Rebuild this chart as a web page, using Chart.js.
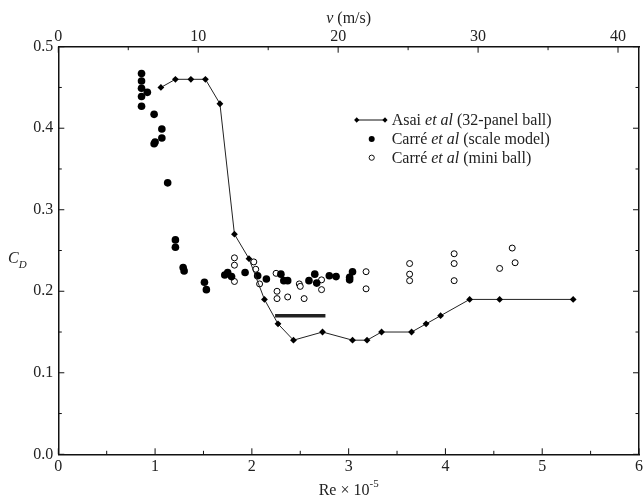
<!DOCTYPE html>
<html>
<head>
<meta charset="utf-8">
<script src="https://cdn.jsdelivr.net/npm/chart.js@4.4.1/dist/chart.umd.min.js"></script>
<style>
  html, body { margin: 0; padding: 0; background: #fff; }
</style>
</head>
<body>
<canvas id="dragChart" width="644" height="499"></canvas>
<script>
// Asai et al (32-panel ball) - diamonds joined by a line
const asaiRe = [1.06, 1.21, 1.37, 1.52, 1.67, 1.82, 1.97, 2.13, 2.27, 2.43, 2.73, 3.04, 3.19, 3.34, 3.65, 3.80, 3.95, 4.25, 4.56, 5.32];
const asaiCd = [0.45, 0.46, 0.46, 0.46, 0.43, 0.27, 0.24, 0.19, 0.16, 0.14, 0.15, 0.14, 0.14, 0.15, 0.15, 0.16, 0.17, 0.19, 0.19, 0.19];

// Carré et al (scale model) - filled circles
const scaleRe = [0.86, 0.86, 0.86, 0.92, 0.86, 0.86, 0.99, 1.07, 0.99, 1.00, 1.07, 1.13, 1.21, 1.21, 1.29, 1.30, 1.51, 1.53, 1.72, 1.75, 1.79, 1.93, 2.06, 2.15, 2.30, 2.33, 2.37, 2.59, 2.65, 2.67, 2.80, 2.87, 3.01, 3.01, 3.04];
const scaleCd = [0.467, 0.458, 0.449, 0.444, 0.439, 0.427, 0.417, 0.399, 0.381, 0.383, 0.388, 0.333, 0.263, 0.254, 0.229, 0.225, 0.211, 0.202, 0.220, 0.223, 0.218, 0.223, 0.219, 0.215, 0.221, 0.213, 0.213, 0.213, 0.221, 0.210, 0.219, 0.218, 0.217, 0.214, 0.224];

// Carré et al (mini ball) - open circles
const miniRe = [1.82, 1.82, 1.82, 2.02, 2.04, 2.08, 2.25, 2.26, 2.26, 2.37, 2.49, 2.50, 2.54, 2.72, 2.72, 3.18, 3.18, 3.63, 3.63, 3.63, 4.09, 4.09, 4.09, 4.56, 4.69, 4.72];
const miniCd = [0.241, 0.232, 0.212, 0.236, 0.227, 0.209, 0.222, 0.200, 0.191, 0.193, 0.209, 0.206, 0.191, 0.214, 0.202, 0.224, 0.203, 0.234, 0.221, 0.213, 0.246, 0.234, 0.213, 0.228, 0.253, 0.235];

// thick horizontal bar
const barRe = [2.24, 2.76];
const barCd = [0.17, 0.17];

// tick labels
const reTicks = [0, 1, 2, 3, 4, 5, 6];
const vTicks = [0, 10, 20, 30, 40];
const cdTicks = [0, 0.1, 0.2, 0.3, 0.4, 0.5];

const SERIF = "'Liberation Serif', 'Times New Roman', serif";
Chart.defaults.font.family = SERIF;
Chart.defaults.font.size = 16;
Chart.defaults.color = '#222';

const toPts = (xs, ys) => xs.map((x, i) => ({ x: x, y: ys[i] }));

// draw the ticks pointing inwards, with a minor tick half way
const inTicks = {
  id: 'inTicks',
  afterDraw(chart) {
    const { ctx, chartArea: a, scales } = chart;
    ctx.save();
    ctx.strokeStyle = '#111';
    ctx.lineWidth = 1;
    const marks = (vals) => {
      const out = [];
      vals.forEach((v, i) => {
        out.push([v, 6]);
        if (i < vals.length - 1) out.push([(v + vals[i + 1]) / 2, 3.5]);
      });
      return out;
    };
    ctx.beginPath();
    marks(reTicks).forEach(([v, len]) => {
      const p = scales.x.getPixelForValue(v);
      ctx.moveTo(p, a.bottom); ctx.lineTo(p, a.bottom - len);
    });
    marks(vTicks).forEach(([v, len]) => {
      const p = scales.xTop.getPixelForValue(v);
      ctx.moveTo(p, a.top); ctx.lineTo(p, a.top + len);
    });
    marks(cdTicks).forEach(([v, len]) => {
      const p = scales.y.getPixelForValue(v);
      ctx.moveTo(a.left, p); ctx.lineTo(a.left + len, p);
      ctx.moveTo(a.right, p); ctx.lineTo(a.right - len, p);
    });
    ctx.stroke();
    ctx.restore();
  }
};

// write a run of [text, italic] pieces starting at x
function runText(ctx, parts, x, y, size) {
  parts.forEach(([t, it]) => {
    ctx.font = (it ? 'italic ' : '') + size + 'px ' + SERIF;
    ctx.fillText(t, x, y);
    x += ctx.measureText(t).width;
  });
  return x;
}
function runWidth(ctx, parts, size) {
  let w = 0;
  parts.forEach(([t, it]) => {
    ctx.font = (it ? 'italic ' : '') + size + 'px ' + SERIF;
    w += ctx.measureText(t).width;
  });
  return w;
}

// axis titles and legend
const labels = {
  id: 'labels',
  afterDraw(chart) {
    const { ctx, chartArea: a } = chart;
    const cx = (a.left + a.right) / 2;
    ctx.save();
    ctx.fillStyle = '#222';
    ctx.textBaseline = 'middle';
    ctx.textAlign = 'left';

    // top title
    const top = [['v', true], [' (m/s)', false]];
    runText(ctx, top, cx - runWidth(ctx, top, 16) / 2, 19, 16);

    // bottom title
    const bot = [['Re \u00d7 10', false]];
    const w1 = runWidth(ctx, bot, 16);
    ctx.font = '11px ' + SERIF;
    const w2 = ctx.measureText('-5').width;
    const bx = runText(ctx, bot, cx - (w1 + w2) / 2, 491, 16);
    ctx.font = '11px ' + SERIF;
    ctx.fillText('-5', bx, 484);

    // y title
    const yx = runText(ctx, [['C', true]], 8, 259, 16);
    ctx.font = 'italic 11px ' + SERIF;
    ctx.fillText('D', yx, 265);

    // legend
    const lx = 391.7;
    const rows = [120, 139, 157.7];
    ctx.strokeStyle = '#111';
    ctx.lineWidth = 1;
    ctx.beginPath();
    ctx.moveTo(356.7, rows[0]); ctx.lineTo(385, rows[0]);
    ctx.stroke();
    ctx.fillStyle = '#000';
    [356.7, 385].forEach(px => {
      ctx.beginPath();
      ctx.moveTo(px, rows[0] - 2.8); ctx.lineTo(px + 2.6, rows[0]);
      ctx.lineTo(px, rows[0] + 2.8); ctx.lineTo(px - 2.6, rows[0]);
      ctx.closePath(); ctx.fill();
    });
    ctx.beginPath(); ctx.arc(371.7, rows[1], 3, 0, Math.PI * 2); ctx.fill();
    ctx.beginPath(); ctx.arc(371.7, rows[2], 2.6, 0, Math.PI * 2); ctx.stroke();

    ctx.fillStyle = '#222';
    const texts = chart.data.datasets.filter(d => d.legendParts).map(d => d.legendParts);
    texts.forEach((parts, i) => runText(ctx, parts, lx, rows[i] + 1, 16));
    ctx.restore();
  }
};

const ctx = document.getElementById('dragChart').getContext('2d');
const chart = new Chart(ctx, {
  type: 'scatter',
  data: {
    datasets: [
      {
        label: 'Asai et al (32-panel ball)',
        legendParts: [['Asai ', false], ['et al', true], [' (32-panel ball)', false]],
        data: toPts(asaiRe, asaiCd),
        showLine: true,
        borderColor: '#222',
        borderWidth: 1,
        pointStyle: 'rectRot',
        pointRadius: 3.4,
        pointBackgroundColor: '#000',
        pointBorderColor: '#000',
        pointBorderWidth: 0
      },
      {
        label: 'Carré et al (scale model)',
        legendParts: [['Carr\u00e9 ', false], ['et al', true], [' (scale model)', false]],
        data: toPts(scaleRe, scaleCd),
        pointStyle: 'circle',
        pointRadius: 3.8,
        pointBackgroundColor: '#000',
        pointBorderColor: '#000',
        pointBorderWidth: 0
      },
      {
        label: 'Carré et al (mini ball)',
        legendParts: [['Carr\u00e9 ', false], ['et al', true], [' (mini ball)', false]],
        data: toPts(miniRe, miniCd),
        pointStyle: 'circle',
        pointRadius: 3,
        pointBackgroundColor: '#fff',
        pointBorderColor: '#000',
        pointBorderWidth: 1
      },
      {
        label: 'bar',
        data: toPts(barRe, barCd),
        showLine: true,
        borderColor: '#222',
        borderWidth: 3.5,
        pointRadius: 0
      }
    ]
  },
  options: {
    responsive: false,
    animation: false,
    devicePixelRatio: 1,
    layout: { padding: 0 },
    plugins: {
      legend: { display: false },
      tooltip: { enabled: false }
    },
    scales: {
      x: {
        type: 'linear',
        position: 'bottom',
        min: 0,
        max: 6,
        afterBuildTicks: s => { s.ticks = reTicks.map(v => ({ value: v })); },
        ticks: { padding: 3, color: '#222', callback: v => String(v) },
        grid: { drawOnChartArea: false, drawTicks: false },
        border: { display: true, color: '#111', width: 1.5 },
        afterFit: s => { s.height = 44.7; s.paddingLeft = 0; s.paddingRight = 0; }
      },
      xTop: {
        type: 'linear',
        position: 'top',
        min: 0,
        max: 41.5,
        afterBuildTicks: s => { s.ticks = vTicks.map(v => ({ value: v })); },
        ticks: { padding: 0, color: '#222', callback: v => String(v) },
        grid: { drawOnChartArea: false, drawTicks: false },
        border: { display: true, color: '#111', width: 1.5 },
        afterFit: s => { s.height = 46.7; s.paddingLeft = 0; s.paddingRight = 0; }
      },
      y: {
        type: 'linear',
        position: 'left',
        min: 0,
        max: 0.5,
        afterBuildTicks: s => { s.ticks = cdTicks.map(v => ({ value: v })); },
        ticks: { padding: 5, color: '#222', callback: v => v.toFixed(1) },
        grid: { drawOnChartArea: false, drawTicks: false },
        border: { display: true, color: '#111', width: 1.5 },
        afterFit: s => { s.width = 58.3; s.paddingTop = 0; s.paddingBottom = 0; }
      },
      yRight: {
        type: 'linear',
        position: 'right',
        min: 0,
        max: 0.5,
        ticks: { display: false },
        grid: { drawOnChartArea: false, drawTicks: false },
        border: { display: true, color: '#111', width: 1.5 },
        afterFit: s => { s.width = 2.5; s.paddingTop = 0; s.paddingBottom = 0; }
      }
    }
  },
  plugins: [inTicks, labels]
});
</script>
</body>
</html>
